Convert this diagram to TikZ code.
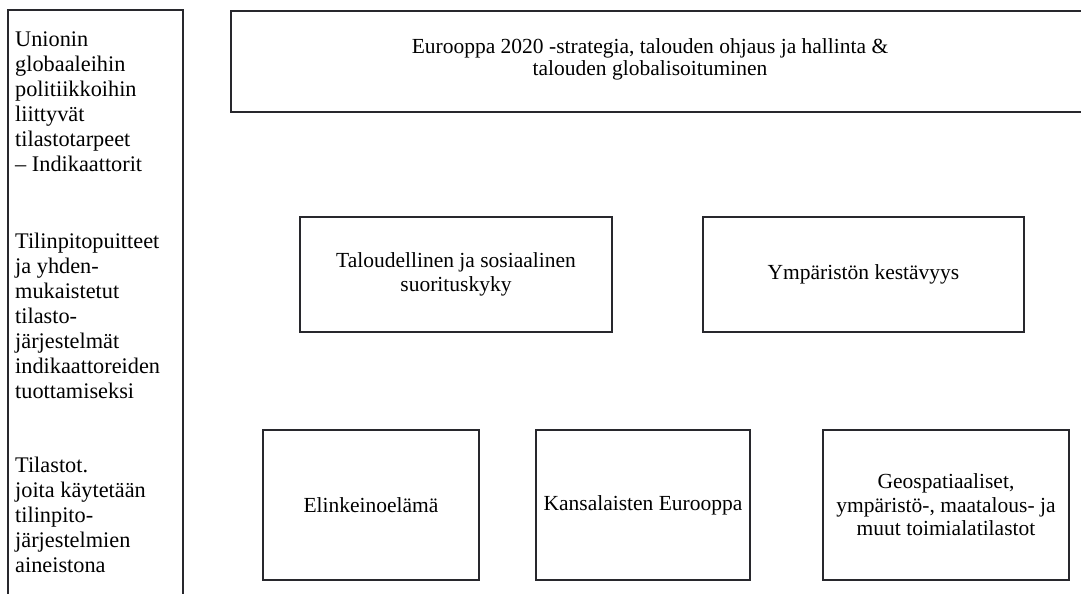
\documentclass[tikz,border=0pt]{standalone}
\usepackage{fontspec}
\setmainfont{Liberation Serif}

\begin{document}
\begin{tikzpicture}[x=1pt,y=-1pt,
  box/.style={draw=boxline,line width=1.3pt,align=center,inner sep=0pt,
    font=\fontsize{21.5}{23.5}\selectfont},
  sidetext/.style={anchor=north west,align=left,inner sep=0pt,
    font=\fontsize{22.3}{25}\selectfont}]

% Colors
\definecolor{boxline}{RGB}{40,40,45}

\useasboundingbox (0,0) rectangle (1081,594);

% Left column (open at the bottom)
\draw[boxline,line width=1.3pt] (8,600) -- (8,10) -- (183,10) -- (183,600);

\node[sidetext] (globneeds) at (15,32) {Unionin\\globaaleihin\\politiikkoihin\\liittyvät\\tilastotarpeet\\– Indikaattorit};
\node[sidetext] (accounts) at (15,233) {Tilinpitopuitteet\\ja yhden-\\mukaistetut\\tilasto-\\järjestelmät\\indikaattoreiden\\tuottamiseksi};
\node[sidetext] (stats) at (15,457) {Tilastot.\\joita käytetään\\tilinpito-\\järjestelmien\\aineistona};

% Top box (runs off the right edge)
\draw[boxline,line width=1.3pt] (1090,11) -- (231,11) -- (231,112) -- (1090,112);
\node[box,draw=none,font=\fontsize{21.5}{22}\selectfont] (strategy) at (650,59) {Eurooppa 2020 -strategia, talouden ohjaus ja hallinta \&\\talouden globalisoituminen};

% Middle row
\node[box,minimum width=312pt,minimum height=115pt] (econ) at (456,274.5) {Taloudellinen ja sosiaalinen\\suorituskyky};
\node[box,minimum width=321pt,minimum height=115pt] (envir) at (863.5,274.5) {Ympäristön kestävyys};

% Bottom row
\node[box,minimum width=216pt,minimum height=150pt] (business) at (371,505) {Elinkeinoelämä};
\node[box,minimum width=214pt,minimum height=150pt] (citizens) at (643,505) {Kansalaisten Eurooppa};
\node[box,minimum width=246pt,minimum height=150pt] (geo) at (946,505) {Geospatiaaliset,\\ympäristö-, maatalous- ja\\muut toimialatilastot};

\end{tikzpicture}
\end{document}
